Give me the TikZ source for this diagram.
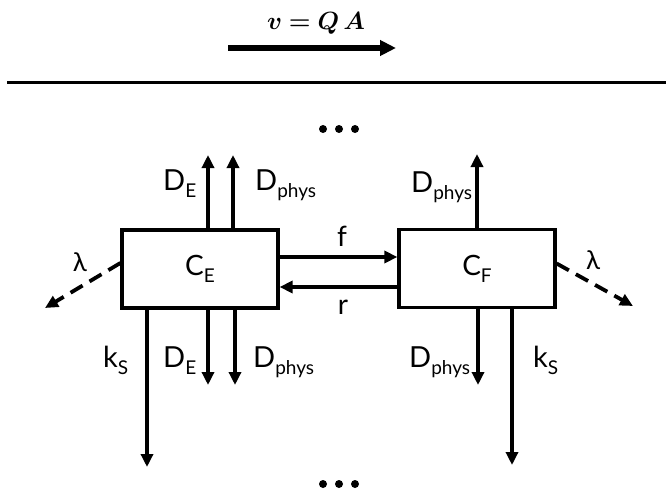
\documentclass[tikz,border=0pt]{standalone}
\usepackage{bm}
\usepackage{fontspec}
\setmainfont{Lato}
\usetikzlibrary{arrows.meta}
\newcommand{\lbl}[2]{\fontsize{29}{30}\selectfont #1\raisebox{-7pt}{\fontsize{19}{20}\selectfont #2}}
\begin{document}
\begin{tikzpicture}[x=1pt,y=-1pt,
  arr/.style={line width=3.8pt, -{Triangle[length=13pt,width=12pt]}},
  dsh/.style={line width=3.8pt, dash pattern=on 14pt off 8pt, -{Triangle[length=13pt,width=12pt]}},
  box/.style={draw, line width=3.2pt, minimum width=156pt, minimum height=78pt, inner sep=0pt},
  lab/.style={inner sep=0pt, anchor=base west},
  dot/.style={fill, circle, inner sep=0pt, minimum size=8pt},
]
\useasboundingbox (0,0) rectangle (666,492);
% title
\node[inner sep=0pt] (title) at (316,23) {\fontsize{25}{26}\selectfont $\bm{v} \bm{=} \bm{Q}\,\bm{A}$};
\coordinate (a1) at (228,48);
\coordinate (a2) at (396,48);
\draw[line width=5.5pt, -{Triangle[length=16pt,width=15pt]}] (a1) -- (a2);
\coordinate (h1) at (7,83);
\coordinate (h2) at (666,83);
\draw[line width=3pt] (h1) -- (h2);
% dots
\node[dot] (t1) at (323,129) {};
\node[dot] (t2) at (339,129) {};
\node[dot] (t3) at (355,129) {};
\node[dot] (b1) at (323,484) {};
\node[dot] (b2) at (339,484) {};
\node[dot] (b3) at (355,484) {};
% boxes
\node[box] (CE) at (200,269) {\fontsize{28}{30}\selectfont C\raisebox{-7pt}{\fontsize{19}{20}\selectfont E}};
\node[box] (CF) at (477,268.5) {\fontsize{28}{30}\selectfont C\raisebox{-7pt}{\fontsize{19}{20}\selectfont F}};
% up arrows
\coordinate (uE1) at (208,155);
\coordinate (uE2) at (233,155);
\coordinate (uF) at (477,154);
\draw[arr] (CE.north -| uE1) -- (uE1);
\draw[arr] (CE.north -| uE2) -- (uE2);
\draw[arr] (CF.north -| uF) -- (uF);
\node[lab] (lDEu) at (163,190) {\lbl{D}{E}};
\node[lab] (lDpu) at (255,190) {\lbl{D}{phys}};
\node[lab] (lDpFu) at (411,192) {\lbl{D}{phys}};
% down arrows
\coordinate (kE) at (147,467);
\coordinate (dE1) at (208,385);
\coordinate (dE2) at (235,385);
\coordinate (dF) at (478,385);
\coordinate (kF) at (512,465);
\draw[arr] (CE.south -| kE) -- (kE);
\draw[arr] (CE.south -| dE1) -- (dE1);
\draw[arr] (CE.south -| dE2) -- (dE2);
\draw[arr] (CF.south -| dF) -- (dF);
\draw[arr] (CF.south -| kF) -- (kF);
\node[lab] (lkE) at (103,367) {\lbl{k}{S}};
\node[lab] (lDEd) at (163,367) {\lbl{D}{E}};
\node[lab] (lDpd) at (253,367) {\lbl{D}{phys}};
\node[lab] (lDpFd) at (409,367) {\lbl{D}{phys}};
\node[lab] (lkF) at (533,367) {\lbl{k}{S}};
% f and r
\draw[arr] ([yshift=12pt]CE.east) -- ([yshift=11.5pt]CF.west);
\draw[arr] ([yshift=-18.5pt]CF.west) -- ([yshift=-18pt]CE.east);
\node[inner sep=0pt, anchor=base] (lf) at (342,246) {\fontsize{28}{30}\selectfont f};
\node[inner sep=0pt, anchor=base] (lr) at (343,314) {\fontsize{28}{30}\selectfont r};
% lambda
\coordinate (lamL) at (45,308);
\coordinate (lamR) at (633,306);
\draw[dsh] ([yshift=6pt]CE.west) -- (lamL);
\draw[dsh] ([yshift=5pt]CF.east) -- (lamR);
\node[inner sep=0pt] (llL) at (80,262) {\fontsize{26}{26}\selectfont λ};
\node[inner sep=0pt] (llR) at (593,260) {\fontsize{26}{26}\selectfont λ};
\end{tikzpicture}
\end{document}
